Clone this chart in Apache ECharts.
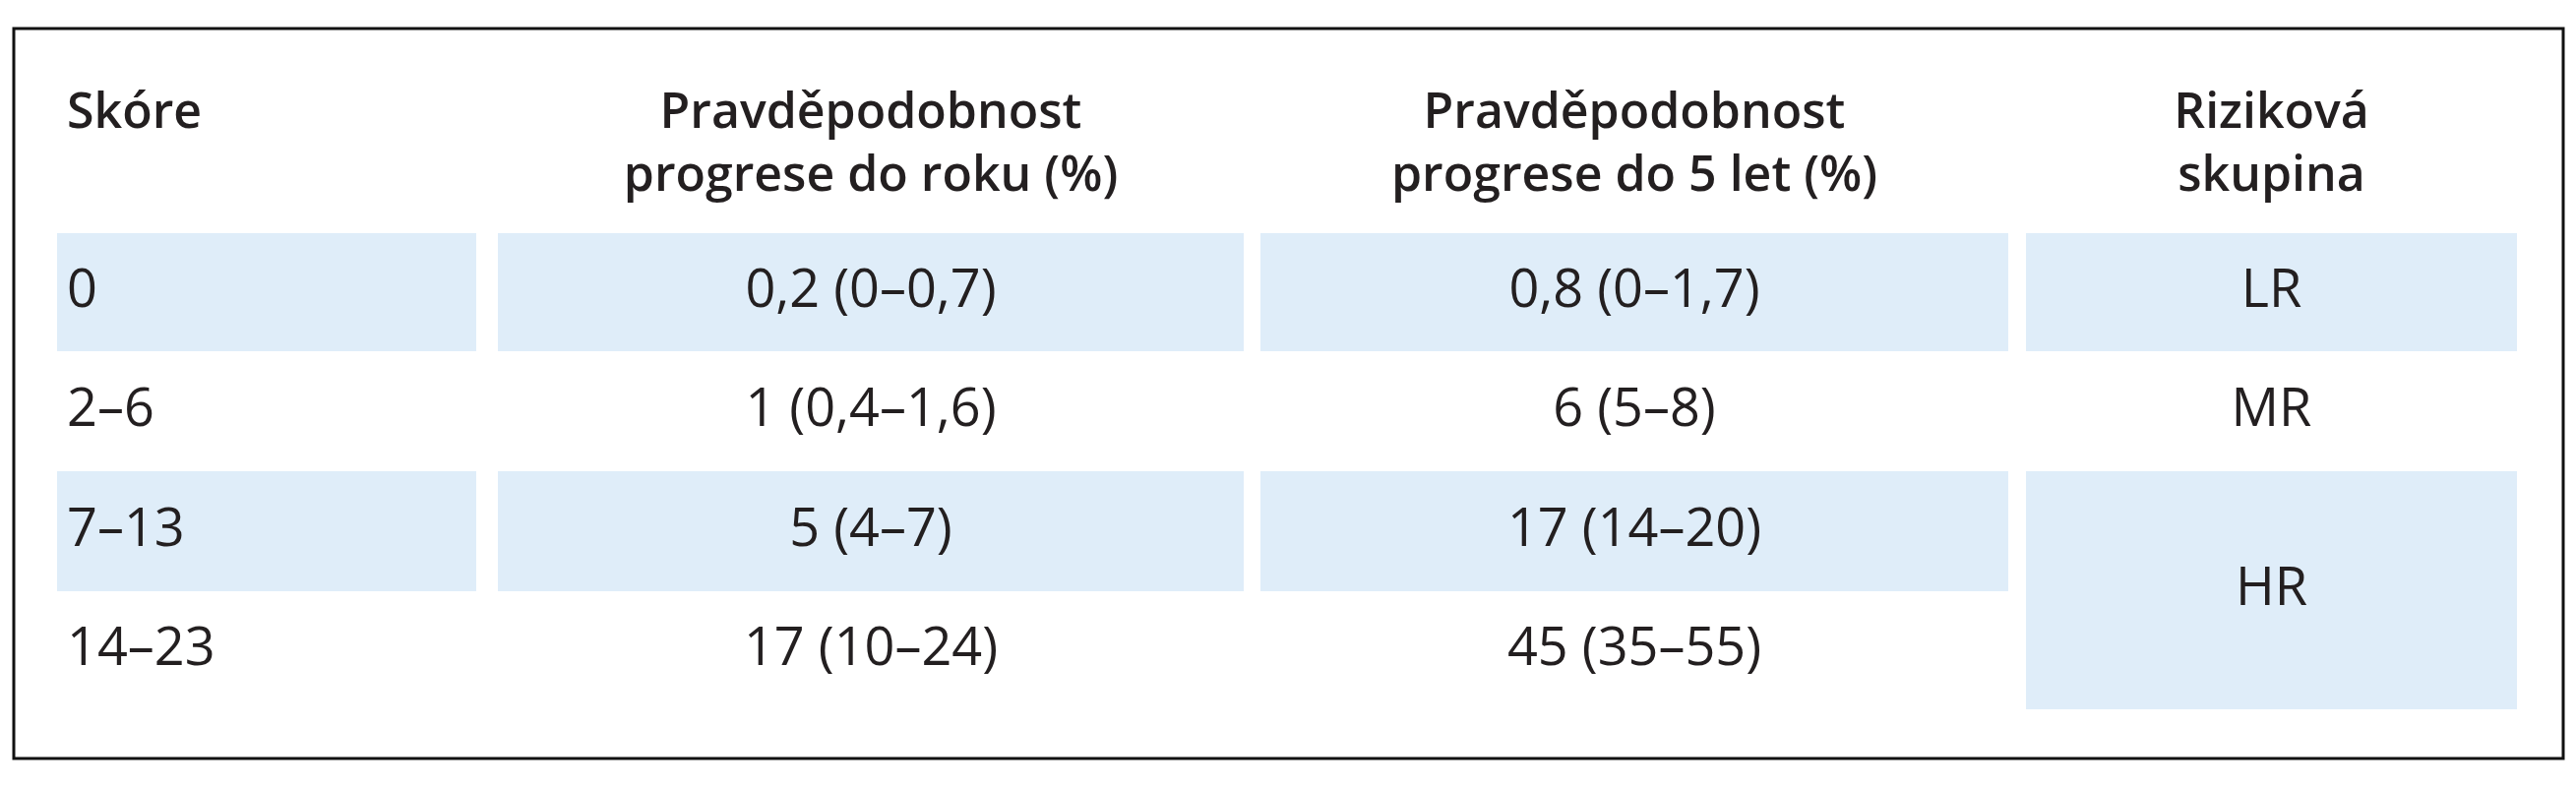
<!doctype html>
<html>
<head>
<meta charset="utf-8">
<title>table</title>
<script src="https://cdn.jsdelivr.net/npm/echarts@6/dist/echarts.min.js"></script>
<style>
  html, body { margin: 0; padding: 0; background: #fff; }
  #main { width: 2618px; height: 800px; }
</style>
</head>
<body>
<div id="main"></div>
<script>
var headers = [['Skóre'], ['Pravděpodobnost', 'progrese do roku (%)'], ['Pravděpodobnost', 'progrese do 5 let (%)'], ['Riziková', 'skupina']];
var scores = ['0', '2–6', '7–13', '14–23'];
var prob1 = ['0,2 (0–0,7)', '1 (0,4–1,6)', '5 (4–7)', '17 (10–24)'];
var prob5 = ['0,8 (0–1,7)', '6 (5–8)', '17 (14–20)', '45 (35–55)'];
var groups = [{ name: 'LR', from: 0, to: 0 }, { name: 'MR', from: 1, to: 1 }, { name: 'HR', from: 2, to: 3 }];

var colX = [[58, 484], [506, 1264], [1281, 2041], [2059, 2558]];
var rowY = [237, 357, 479, 601, 721];
var fill = '#dfedf9';
var ink = '#231f20';
var font = '"Open Sans", sans-serif';

var els = [];
els.push({ type: 'rect', shape: { x: 14, y: 29, width: 2591, height: 742 }, style: { fill: 'none', stroke: '#111', lineWidth: 3 } });

function txt(x, y, s, align, bold) {
  els.push({ type: 'text', x: x, y: y, style: { text: s, fill: ink, font: (bold ? '600 50px ' : '54px ') + font, align: align, verticalAlign: 'middle' } });
}

// header
headers.forEach(function (h, c) {
  var cx = c === 0 ? 68 : (colX[c][0] + colX[c][1]) / 2;
  h.forEach(function (line, i) { txt(cx, 116 + i * 64, line, c === 0 ? 'left' : 'center', true); });
});

// body fills (odd rows shaded for first 3 columns)
for (var r = 0; r < scores.length; r++) {
  if (r % 2 === 0) {
    for (var c = 0; c < 3; c++) {
      els.push({ type: 'rect', shape: { x: colX[c][0], y: rowY[r], width: colX[c][1] - colX[c][0], height: rowY[r + 1] - rowY[r] }, style: { fill: fill } });
    }
  }
  var cy = (rowY[r] + rowY[r + 1]) / 2;
  txt(68, cy, scores[r], 'left', false);
  txt((colX[1][0] + colX[1][1]) / 2, cy, prob1[r], 'center', false);
  txt((colX[2][0] + colX[2][1]) / 2, cy, prob5[r], 'center', false);
}
groups.forEach(function (g, i) {
  var y0 = rowY[g.from], y1 = rowY[g.to + 1];
  if (i % 2 === 0) {
    els.push({ type: 'rect', shape: { x: colX[3][0], y: y0, width: colX[3][1] - colX[3][0], height: y1 - y0 }, style: { fill: fill } });
  }
  txt((colX[3][0] + colX[3][1]) / 2, (y0 + y1) / 2, g.name, 'center', false);
});
// put text above fills
els.sort(function (a, b) { return (a.type === 'text') - (b.type === 'text'); });

var chart = echarts.init(document.getElementById('main'));
chart.setOption({ animation: false, graphic: { elements: els } });
</script>
</body>
</html>
